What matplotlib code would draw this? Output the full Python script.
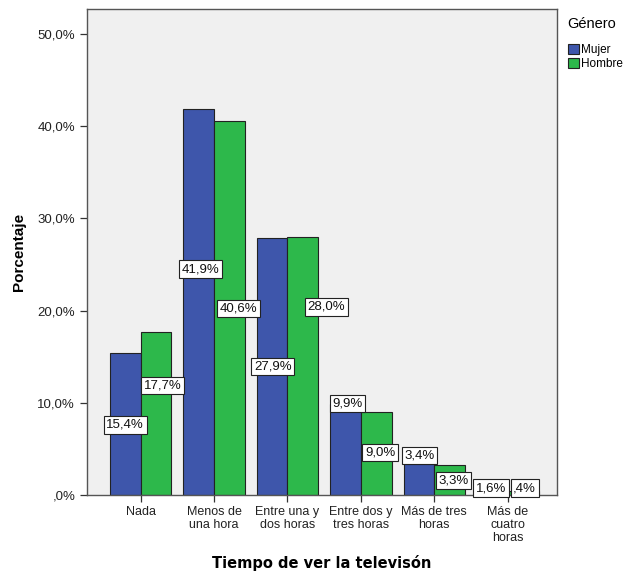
import matplotlib
matplotlib.use("Agg")
import matplotlib.pyplot as plt
import numpy as np

categories = ["Nada", "Menos de\nuna hora", "Entre una y\ndos horas",
              "Entre dos y\ntres horas", "Más de tres\nhoras", "Más de\ncuatro\nhoras"]
mujer = [15.4, 41.9, 27.9, 9.9, 3.4, 1.6]
hombre = [17.7, 40.6, 28.0, 9.0, 3.3, 0.4]
mujer_labels = ["15,4%", "41,9%", "27,9%", "9,9%", "3,4%", "1,6%"]
hombre_labels = ["17,7%", "40,6%", "28,0%", "9,0%", "3,3%", ",4%"]
yticks = [0, 10, 20, 30, 40, 50]
ytick_labels = [",0%", "10,0%", "20,0%", "30,0%", "40,0%", "50,0%"]

# label placement (style/position only)
mujer_lab_y = [7.6, 24.5, 13.9, 9.9, 4.3, 0.75]
hombre_lab_y = [11.9, 20.2, 20.4, 4.6, 1.6, 0.75]
mujer_lab_dx = [-0.21, -0.19, -0.20, -0.18, -0.20, -0.23]
hombre_lab_dx = [0.30, 0.33, 0.53, 0.26, 0.26, 0.23]

plt.rcParams['font.family'] = ['Liberation Sans', 'DejaVu Sans']

fig = plt.figure(figsize=(6.25, 5.74), dpi=100)
ax = fig.add_axes([87/625, 1 - 495/574, (557-87)/625, (495-9)/574])
ax.set_facecolor("#F0F0F0")

x = np.arange(len(categories))
w = 0.42
blue = "#3E56AB"
green = "#2DB84B"
ax.bar(x - w/2, mujer, w, color=blue, edgecolor="#222222", linewidth=0.8, label="Mujer")
ax.bar(x + w/2, hombre, w, color=green, edgecolor="#222222", linewidth=0.8, label="Hombre")

bbox = dict(boxstyle="square,pad=0.2", fc="white", ec="#222222", lw=0.8)
for i in range(len(categories)):
    ax.text(x[i] + mujer_lab_dx[i], mujer_lab_y[i], mujer_labels[i], ha="center", va="center",
            fontsize=9.5, bbox=bbox, color="#111111")
    ax.text(x[i] + hombre_lab_dx[i], hombre_lab_y[i], hombre_labels[i], ha="center", va="center",
            fontsize=9.5, bbox=bbox, color="#111111")

ax.set_xlim(-0.73, 5.67)
ax.set_ylim(0, 52.7)
ax.set_yticks(yticks)
ax.set_yticklabels(ytick_labels, fontsize=9.5, color="#222222")
ax.set_xticks(x)
ax.set_xticklabels(categories, fontsize=9, color="#222222", linespacing=1.08)
ax.tick_params(axis="both", length=5, width=0.9, color="#333333")
ax.tick_params(axis="x", pad=3)
for s in ax.spines.values():
    s.set_color("#555555")
    s.set_linewidth(1.0)

ax.set_ylabel("Porcentaje", fontsize=11, fontweight="bold", labelpad=8)
ax.set_xlabel("Tiempo de ver la televisón", fontsize=10.5, fontweight="bold",
              family="DejaVu Sans", labelpad=8)

leg = ax.legend(title="Género", loc="upper left", bbox_to_anchor=(1.005, 1.0),
                frameon=False, fontsize=8.5, title_fontsize=10.5,
                handlelength=1.0, handleheight=1.0, handletextpad=0.15,
                labelspacing=0.15, borderaxespad=0.3, borderpad=0.4)
leg._legend_box.align = "left"
leg._legend_box.sep = 9
for p in leg.get_patches():
    p.set_edgecolor("#222222")

fig.savefig("out.png", dpi=100, facecolor="white")
